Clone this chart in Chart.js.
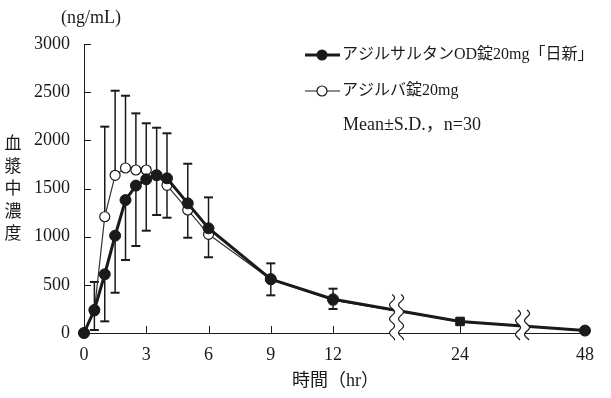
<!DOCTYPE html>
<html>
<head>
<meta charset="utf-8">
<script src="https://cdn.jsdelivr.net/npm/chart.js@4"></script>
<style>
html,body{margin:0;padding:0;background:#fff;}
#wrap{position:relative;width:611px;height:398px;}
</style>
</head>
<body>
<div id="wrap"><canvas id="c" width="611" height="398"></canvas></div>
<script>
// ---- data ----
const hours      = [0, 0.5, 1, 1.5, 2, 2.5, 3, 3.5, 4, 5, 6, 9, 12, 24, 48];
const odMean     = [0, 240, 610, 1010, 1380, 1530, 1595, 1637, 1606, 1346, 1087, 560, 350, 120, 25];
const odSD       = [0, 209, 489, 592, 622, 627, 533, 412, 409, 357, 301, 169, 101, 30, 0];
const refMean    = [0, 230, 1207, 1637, 1713, 1692, 1692, 1640, 1533, 1277, 1024, 555, 340, 115, 24];
const refSD      = [0, 300, 935, 878, 750, 588, 485, 491, 540, 480, 384, 168, 120, 30, 0];
const xTickHours = [0, 3, 6, 9, 12, 24, 48];
const xTickLabels= ['0', '3', '6', '9', '12', '24', '48'];
const yTickValues= [0, 500, 1000, 1500, 2000, 2500, 3000];
const breakHours = [18, 36];
const seriesNames = ['アジルサルタンOD錠20mg「日新」', 'アジルバ錠20mg'];
const noteText = 'Mean±S.D.，n=30';
const unitText = '(ng/mL)';
const yTitle = ['血', '漿', '中', '濃', '度'];
const xTitle = '時間（hr）';

// piecewise (broken) time axis
function xPos(h) {
  if (h <= 12) return h;
  if (h <= 24) return 12 + (h - 12) * (6.12 / 12);
  return 18.12 + (h - 24) * (6.02 / 24);
}

const FONT = "'Liberation Serif','Noto Sans CJK JP',serif";
const INK = '#1a1a1a';

const odData  = hours.map((h, i) => ({x: xPos(h), y: odMean[i]}));
const refData = hours.map((h, i) => ({x: xPos(h), y: refMean[i]}));

const errorBars = {
  id: 'errorBars',
  beforeDatasetsDraw(chart) {
    const {ctx, scales: {x, y}} = chart;
    ctx.save();
    ctx.strokeStyle = INK;
    const draw = (h, from, to) => {
      const px = x.getPixelForValue(xPos(h));
      const y1 = y.getPixelForValue(from), y2 = y.getPixelForValue(to);
      ctx.lineWidth = 1.5;
      ctx.beginPath(); ctx.moveTo(px, y1); ctx.lineTo(px, y2); ctx.stroke();
      ctx.lineWidth = 2;
      ctx.beginPath(); ctx.moveTo(px - 4.5, y2); ctx.lineTo(px + 4.5, y2); ctx.stroke();
    };
    hours.forEach((h, i) => {
      if (refSD[i] > 0) draw(h, refMean[i], refMean[i] + refSD[i]);
      if (odSD[i] > 0) draw(h, odMean[i], odMean[i] - odSD[i]);
    });
    ctx.restore();
  }
};

const decor = {
  id: 'decor',
  afterDraw(chart) {
    const {ctx, chartArea: a, scales: {x, y}} = chart;
    ctx.save();
    // tick marks (inside)
    ctx.strokeStyle = INK; ctx.lineWidth = 1;
    xTickHours.forEach(h => {
      const px = Math.round(x.getPixelForValue(xPos(h))) + 0.5;
      ctx.beginPath(); ctx.moveTo(px, a.bottom); ctx.lineTo(px, a.bottom - 7); ctx.stroke();
    });
    yTickValues.forEach(v => {
      const py = Math.round(y.getPixelForValue(v)) + 0.5;
      ctx.beginPath(); ctx.moveTo(a.left, py); ctx.lineTo(a.left + 7, py); ctx.stroke();
    });
    // axis breaks
    const pts = chart.getDatasetMeta(0).data;
    breakHours.forEach(bh => {
      const cx = x.getPixelForValue(xPos(bh));
      let k = hours.findIndex(h => h > bh);
      const p0 = pts[k - 1], p1 = pts[k];
      const ly = p0.y + (p1.y - p0.y) * (cx - p0.x) / (p1.x - p0.x);
      const top = ly - 16, bot = a.bottom + 8;
      const wave = (off, yy) => cx + off + 2.5 * Math.sin((yy - top) / 14 * 2 * Math.PI);
      ctx.fillStyle = '#fff';
      ctx.beginPath();
      for (let yy = top; yy <= bot; yy += 1) ctx.lineTo(wave(-4.5, yy), yy);
      for (let yy = bot; yy >= top; yy -= 1) ctx.lineTo(wave(4.5, yy), yy);
      ctx.closePath(); ctx.fill();
      ctx.strokeStyle = INK; ctx.lineWidth = 1.2;
      [-4.5, 4.5].forEach(off => {
        ctx.beginPath();
        for (let yy = top; yy <= bot; yy += 1) {
          if (yy === top) ctx.moveTo(wave(off, yy), yy); else ctx.lineTo(wave(off, yy), yy);
        }
        ctx.stroke();
      });
    });
    // texts
    ctx.fillStyle = INK;
    ctx.textBaseline = 'middle';
    ctx.font = '18px ' + FONT;
    ctx.textAlign = 'left';
    ctx.fillText(unitText, 61, 18);
    ctx.font = '17px ' + FONT;
    ctx.textAlign = 'center';
    yTitle.forEach((ch, i) => ctx.fillText(ch, 13, 145 + i * 22.5));
    ctx.font = '18px ' + FONT;
    ctx.textAlign = 'left';
    ctx.fillText(xTitle, 292, 381);
    // legend
    const lx0 = 305, lx1 = 340, tx = 342;
    const ly = [55, 91];
    ctx.strokeStyle = INK;
    ctx.lineWidth = 3;
    ctx.beginPath(); ctx.moveTo(lx0, ly[0]); ctx.lineTo(lx1, ly[0]); ctx.stroke();
    ctx.fillStyle = INK;
    ctx.beginPath(); ctx.arc(322, ly[0], 5.5, 0, 2 * Math.PI); ctx.fill();
    ctx.lineWidth = 1.2;
    ctx.beginPath(); ctx.moveTo(lx0, ly[1]); ctx.lineTo(lx1, ly[1]); ctx.stroke();
    ctx.fillStyle = '#fff';
    ctx.beginPath(); ctx.arc(322, ly[1], 5, 0, 2 * Math.PI); ctx.fill(); ctx.stroke();
    ctx.fillStyle = INK;
    ctx.font = '16px ' + FONT;
    ctx.fillText(seriesNames[0], tx, ly[0]);
    ctx.fillText(seriesNames[1], tx, ly[1]);
    ctx.font = '18px ' + FONT;
    ctx.fillText(noteText, 343, 125);
    ctx.restore();
  }
};

new Chart(document.getElementById('c'), {
  type: 'line',
  data: {
    datasets: [
      {
        label: seriesNames[0], data: odData,
        borderColor: INK, borderWidth: 3,
        pointStyle: hours.map(h => h === 24 ? 'rect' : 'circle'),
        pointRadius: hours.map(h => h === 24 ? 6 : 5.5),
        pointBackgroundColor: INK, pointBorderColor: INK, pointBorderWidth: 1,
        tension: 0, clip: false
      },
      {
        label: seriesNames[1], data: refData,
        borderColor: '#333', borderWidth: 1.2,
        pointRadius: hours.map(h => h >= 24 ? 0 : 5),
        pointBackgroundColor: '#fff', pointBorderColor: INK, pointBorderWidth: 1.2,
        tension: 0, clip: false
      }
    ]
  },
  options: {
    responsive: false,
    animation: false,
    events: [],
    layout: {padding: {top: 44, right: 26, left: 0, bottom: 0}},
    plugins: {legend: {display: false}, tooltip: {enabled: false}},
    scales: {
      x: {
        type: 'linear', min: 0, max: 24.14,
        afterBuildTicks: s => { s.ticks = xTickHours.map(h => ({value: xPos(h)})); },
        afterFit: s => { s.height = 65; },
        ticks: {
          callback: (v, i) => xTickLabels[i],
          font: {family: FONT, size: 18}, color: INK, padding: 3, maxRotation: 0, autoSkip: false
        },
        grid: {display: false},
        border: {display: true, color: INK, width: 1}
      },
      y: {
        min: 0, max: 3000,
        afterFit: s => { s.width = 84; },
        afterBuildTicks: s => { s.ticks = yTickValues.map(v => ({value: v})); },
        ticks: {
          callback: v => String(v),
          font: {family: FONT, size: 18}, color: INK, padding: 6
        },
        grid: {display: false},
        border: {display: true, color: INK, width: 1}
      }
    }
  },
  plugins: [errorBars, decor]
});
</script>
</body>
</html>
